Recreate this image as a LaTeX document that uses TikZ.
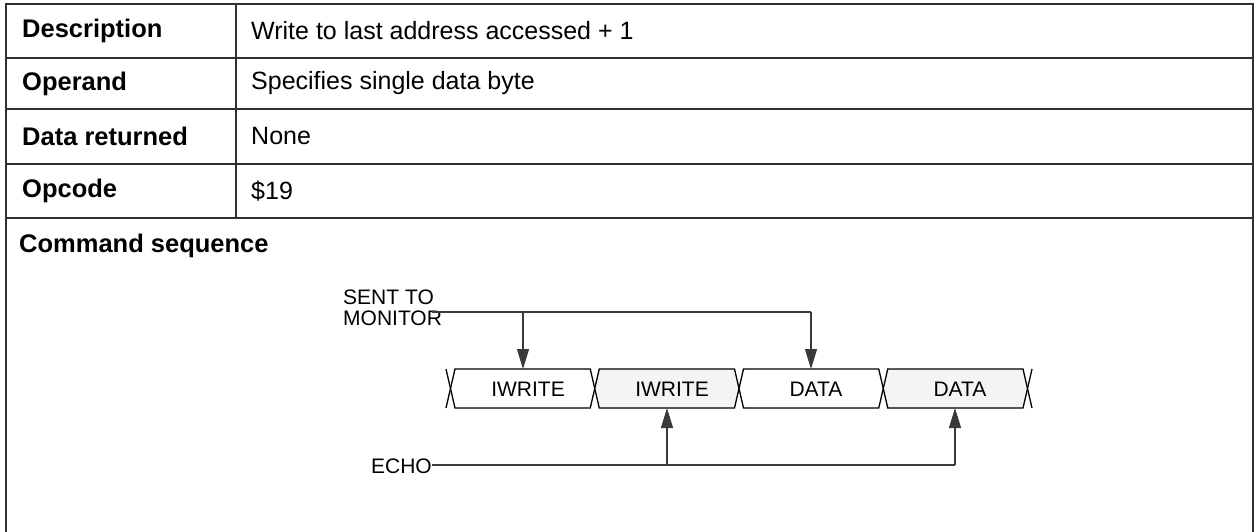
\documentclass[tikz,border=0pt]{standalone}
\usepackage{fontspec}
\setmainfont{Liberation Sans}
\usetikzlibrary{arrows.meta}
\definecolor{frame}{HTML}{303030}
\definecolor{wirec}{HTML}{3A3A3A}
\definecolor{shade}{HTML}{F4F4F4}
\tikzset{
  tabline/.style={draw=frame, line width=1.6pt},
  lbl/.style={font=\fontsize{25.5}{28}\selectfont\bfseries, anchor=west, inner sep=0pt},
  val/.style={font=\fontsize{25}{28}\selectfont, anchor=west, inner sep=0pt},
  small/.style={font=\fontsize{21}{21}\selectfont, inner sep=0pt},
  wire/.style={draw=wirec, line width=1.3pt},
  arr/.style={wire, -{Triangle[length=20pt,width=12pt]}},
  bus/.style={draw=black, line width=1.3pt, line join=miter},
}
\begin{document}
\begin{tikzpicture}[x=1pt,y=-1pt]
\useasboundingbox (0,0) rectangle (1258,531);
% table frame
\draw[tabline] (6,534) -- (6,4) -- (1253,4) -- (1253,534);
\draw[tabline] (6,58) -- (1253,58);
\draw[tabline] (6,109) -- (1253,109);
\draw[tabline] (6,164) -- (1253,164);
\draw[tabline] (6,218) -- (1253,218);
\draw[tabline] (236,4) -- (236,218);
% table text
\node[lbl] (l1) at (22,31) {Description};
\node[lbl] (l2) at (22,83.5) {Operand};
\node[lbl] (l3) at (22,136.5) {Data returned};
\node[lbl] (l4) at (22,191) {Opcode};
\node[val] (v1) at (251,31) {Write to last address accessed + 1};
\node[val] (v2) at (251,83.5) {Specifies single data byte};
\node[val] (v3) at (251,136.5) {None};
\node[val] (v4) at (251,191) {\$19};
\node[lbl] (l5) at (19,246) {Command sequence};
% bus segments
\def\ya{369}\def\yb{408}\def\ym{388.5}\def\h{4.5}
\foreach \a/\b/\f in {450.5/594.75/white, 594.75/739/shade, 739/883.25/white, 883.25/1027.5/shade}{
  \filldraw[bus, fill=\f] (\a+\h,\ya) -- (\b-\h,\ya) -- (\b,\ym) -- (\b-\h,\yb) -- (\a+\h,\yb) -- (\a,\ym) -- cycle;
}
\draw[bus] (450.5-\h,\ya) -- (450.5,\ym) -- (450.5-\h,\yb);
\draw[bus] (1027.5+\h,\ya) -- (1027.5,\ym) -- (1027.5+\h,\yb);
\node[small] (s1) at (528,389) {IWRITE};
\node[small] (s2) at (672,389) {IWRITE};
\node[small] (s3) at (816,389) {DATA};
\node[small] (s4) at (960,389) {DATA};
% labels
\node[small, align=left, anchor=north west, font=\fontsize{21}{21}\selectfont] (sent) at (343,290) {SENT TO\\MONITOR};
\node[small, anchor=east] (echo) at (432,466) {ECHO};
% connectors
\coordinate (sa) at (432,312);
\coordinate (sb) at (523,312);
\coordinate (sc) at (811,312);
\coordinate (ta) at (523,369);
\coordinate (tc) at (811,369);
\coordinate (ea) at (432,465);
\coordinate (eb) at (667,465);
\coordinate (ec) at (955,465);
\coordinate (ub) at (667,408);
\coordinate (uc) at (955,408);
\draw[wire] (sa) -- (sc);
\draw[arr] (sb) -- (ta);
\draw[arr] (sc) -- (tc);
\draw[wire] (ea) -- (ec);
\draw[arr] (eb) -- (ub);
\draw[arr] (ec) -- (uc);
\end{tikzpicture}
\end{document}
